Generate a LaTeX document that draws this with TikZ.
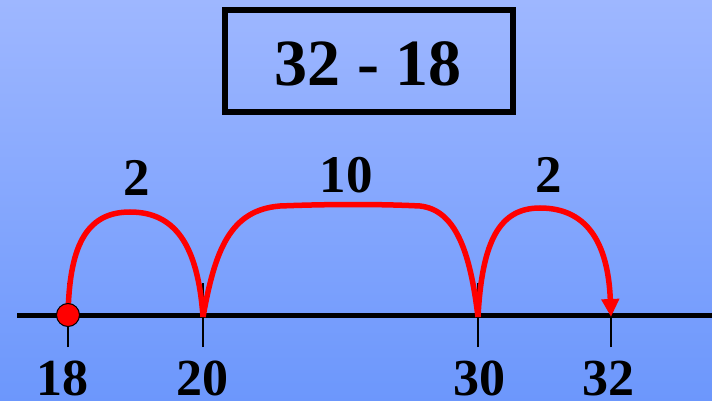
\documentclass[tikz,border=0pt]{standalone}
\usepackage{fontspec}
\setmainfont{Liberation Serif}
\usetikzlibrary{arrows.meta}
\definecolor{bgtop}{RGB}{158,183,255}
\definecolor{bgbot}{RGB}{108,151,252}
\tikzset{
  numlbl/.style={font=\fontsize{52}{52}\selectfont\bfseries, anchor=base, inner sep=0pt},
  jumplbl/.style={font=\fontsize{53}{53}\selectfont\bfseries, anchor=base, inner sep=0pt},
  tickmark/.style={line width=2.5pt, black},
  jumpline/.style={line width=5.5pt, red},
}
\begin{document}
\begin{tikzpicture}[x=1pt,y=-1pt]
\useasboundingbox (0,0) rectangle (712,401);
\shade[top color=bgtop, bottom color=bgbot] (0,0) rectangle (712,401);
% title box
\node[draw, line width=6pt, minimum width=288pt, minimum height=102pt, inner sep=0pt] (box) at (369,61) {};
\node[font=\fontsize{66}{66}\selectfont\bfseries, anchor=base, inner sep=0pt] (title) at (368,86) {32 - 18};
% number line
\coordinate (lstart) at (17,315);
\coordinate (lend) at (712,315);
\draw[line width=5pt] (lstart) -- (lend);
\coordinate (p18) at (68,315);
\coordinate (p20) at (203,315);
\coordinate (p30) at (478,315);
\coordinate (p32) at (611,315);
\foreach \p in {p18,p20,p30,p32}{
  \draw[tickmark] ([yshift=-32pt]\p) -- ([yshift=32pt]\p);
}
% labels
\node[numlbl] (l18) at (62,395) {18};
\node[numlbl] (l20) at (202,395) {20};
\node[numlbl] (l30) at (479,395) {30};
\node[numlbl] (l32) at (608,395) {32};
\node[jumplbl] (j1) at (137,195) {2};
\node[jumplbl] (j2) at (346,192) {10};
\node[jumplbl] (j3) at (549,192) {2};
% jumps
\draw[jumpline] ([yshift=-2pt]p18) .. controls (69,248) and (85,212) .. (130,212)
   .. controls (175,212) and (198,245) .. ([yshift=-2pt]p20);
\draw[jumpline] ([yshift=-2pt]p20) .. controls (215,250) and (230,210) .. (280,206)
   .. controls (330,204) and (380,204) .. (420,206)
   .. controls (455,210) and (470,250) .. ([yshift=-2pt]p30);
\draw[jumpline, -{Triangle[length=18pt,width=17pt]}] ([yshift=-2pt]p30) .. controls (482,240) and (500,208) .. (540,208)
   .. controls (585,208) and (608,240) .. ([yshift=-2pt]p32);
% start dot
\node[circle, fill=red, draw=black, line width=1pt, minimum size=23pt, inner sep=0pt] (dot) at (p18) {};
\end{tikzpicture}
\end{document}
